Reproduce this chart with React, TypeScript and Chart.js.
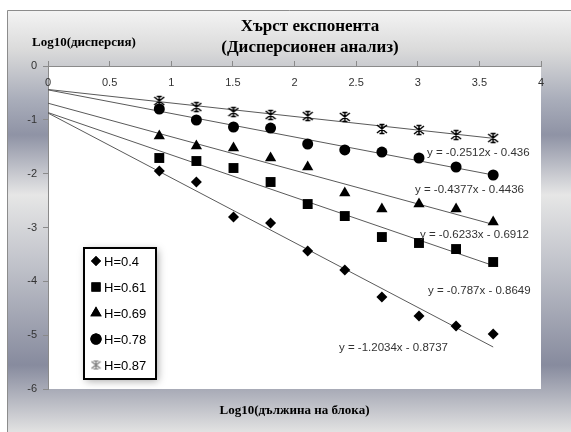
import React, { useEffect, useRef } from 'react';
import { Chart, registerables } from 'chart.js';
import { drawPoint } from 'chart.js/helpers';

Chart.register(...registerables);

// ---- data ----
const xValues = [0.903, 1.204, 1.505, 1.806, 2.107, 2.408, 2.709, 3.01, 3.311, 3.612];
const seriesNames = ['H=0.4', 'H=0.61', 'H=0.69', 'H=0.78', 'H=0.87'];
const h04 = [-1.95, -2.155, -2.805, -2.917, -3.437, -3.79, -4.29, -4.644, -4.83, -4.98];
const h061 = [-1.709, -1.765, -1.895, -2.155, -2.564, -2.787, -3.177, -3.288, -3.4, -3.641];
const h069 = [-1.3, -1.486, -1.523, -1.709, -1.876, -2.359, -2.657, -2.564, -2.657, -2.898];
const h078 = [-0.799, -1.003, -1.133, -1.152, -1.449, -1.56, -1.598, -1.709, -1.876, -2.025];
const h087 = [-0.65, -0.762, -0.855, -0.91, -0.929, -0.947, -1.17, -1.189, -1.282, -1.338];
const seriesValues = [h04, h061, h069, h078, h087];

// trendline endpoints (x = 0 and x = last point)
const trendX = [0, 3.612];
const trendStartY = [-0.8737, -0.8649, -0.6912, -0.4436, -0.436];
const trendEndY = [-5.22, -3.707, -2.943, -2.025, -1.343];
const trendLabels = [
  'y = -1.2034x - 0.8737',
  'y = -0.787x - 0.8649',
  'y = -0.6233x - 0.6912',
  'y = -0.4377x - 0.4436',
  'y = -0.2512x - 0.436',
];

const titleLines = ['Хърст експонента', '(Дисперсионен анализ)'];
const yAxisTitle = 'Log10(дисперсия)';
const xAxisTitle = 'Log10(дължина на блока)';
const xMin = 0, xMax = 4, xStep = 0.5;
const yMin = -6, yMax = 0, yStep = 1;

function makeStar(color: string, size = 12, lw = 1.5) {
  const c = document.createElement('canvas');
  c.width = size;
  c.height = size;
  const g = c.getContext('2d')!;
  g.strokeStyle = color;
  g.lineWidth = lw;
  const a = 1, b = size - 1, m = size / 2;
  g.beginPath();
  g.moveTo(a, a + 1); g.lineTo(b, b - 1);
  g.moveTo(b, a + 1); g.lineTo(a, b - 1);
  g.moveTo(m, a); g.lineTo(m, b);
  g.moveTo(m - 2.5, a + 0.5); g.lineTo(m + 2.5, a + 0.5);
  g.moveTo(m - 2.5, b - 0.5); g.lineTo(m + 2.5, b - 0.5);
  g.stroke();
  return c;
}

export default function App() {
  const ref = useRef<HTMLCanvasElement>(null);
  useEffect(() => {
    const canvas = ref.current!;
    const star = makeStar('#000', 12, 1.5);
    const starLegend = makeStar('#777', 11, 1.2);
    const styles: any[] = ['rectRot', 'rect', 'triangle', 'circle', star];
    const radii = [5.5, 7, 6.5, 5.5, 6];
    const legendStyles: any[] = ['rectRot', 'rect', 'triangle', 'circle', starLegend];
    const legendRadii = [5, 6.5, 6.5, 5.5, 6];

    const scatterSets = seriesValues.map((vals, i) => ({
      label: seriesNames[i],
      data: vals.map((v, j) => ({ x: xValues[j], y: v })),
      showLine: false,
      pointStyle: styles[i],
      pointRadius: radii[i],
      pointBackgroundColor: '#000',
      pointBorderColor: '#000',
      pointBorderWidth: 0,
      order: 1,
    }));
    const trendSets = trendStartY.map((y0, i) => ({
      label: 'trend' + i,
      data: [
        { x: trendX[0], y: y0 },
        { x: trendX[1], y: trendEndY[i] },
      ],
      showLine: true,
      pointRadius: 0,
      borderColor: '#5a5a5a',
      borderWidth: 1,
      order: 2,
    }));

    const bgPlugin = {
      id: 'bg',
      beforeDraw(chart: any) {
        const { ctx, chartArea } = chart;
        ctx.save();
        const g = ctx.createLinearGradient(0, 10, 0, 432);
        const stops: [number, string][] = [
          [10, '#f4f4f4'], [50, '#dadada'], [100, '#a9adba'], [135, '#8f93a5'],
          [195, '#e6e6e6'], [260, '#c3c5cc'], [365, '#878b9e'], [432, '#e2e2e2'],
        ];
        stops.forEach(([y, c]) => g.addColorStop((y - 10) / 422, c));
        ctx.fillStyle = g;
        ctx.fillRect(7, 10, 571 - 7, 432 - 10);
        ctx.strokeStyle = '#8c8c8c';
        ctx.lineWidth = 1;
        ctx.beginPath();
        ctx.moveTo(7.5, 432);
        ctx.lineTo(7.5, 10.5);
        ctx.lineTo(571, 10.5);
        ctx.stroke();
        ctx.fillStyle = '#fff';
        ctx.fillRect(chartArea.left, chartArea.top, chartArea.right - chartArea.left, chartArea.bottom - chartArea.top);
        ctx.restore();
      },
    };

    const textPlugin = {
      id: 'texts',
      afterDraw(chart: any) {
        const { ctx, chartArea } = chart;
        ctx.save();
        // x tick labels (drawn inside plot, below the top axis)
        const xs = chart.scales.x;
        ctx.font = '11px "Liberation Sans", sans-serif';
        ctx.fillStyle = '#333';
        ctx.textAlign = 'center';
        ctx.textBaseline = 'middle';
        xs.ticks.forEach((t: any) => {
          ctx.fillText(String(t.value), xs.getPixelForValue(t.value), chartArea.top + 17);
        });
        // titles
        ctx.fillStyle = '#000';
        ctx.font = 'bold 17px "Liberation Serif", serif';
        ctx.fillText(titleLines[0], 310, 27);
        ctx.fillText(titleLines[1], 310, 48);
        ctx.font = 'bold 13px "Liberation Serif", serif';
        ctx.textAlign = 'left';
        ctx.fillText(yAxisTitle, 32, 43);
        ctx.textAlign = 'center';
        ctx.fillText(xAxisTitle, (chartArea.left + chartArea.right) / 2, 411);

        // equation labels
        const eqPos: [number, number][] = [[339, 348], [428, 291], [420, 235], [415, 190], [427, 153]];
        ctx.font = '11.5px "Liberation Sans", sans-serif';
        ctx.fillStyle = '#333';
        ctx.textAlign = 'left';
        trendLabels.forEach((t, i) => ctx.fillText(t, eqPos[i][0], eqPos[i][1]));

        // legend
        const lx = 84, ly = 248, lw = 72, lh = 131;
        ctx.save();
        ctx.shadowColor = 'rgba(0,0,0,0.35)';
        ctx.shadowBlur = 8;
        ctx.shadowOffsetX = 2;
        ctx.shadowOffsetY = 2;
        ctx.fillStyle = '#fff';
        ctx.fillRect(lx, ly, lw, lh);
        ctx.restore();
        ctx.strokeStyle = '#000';
        ctx.lineWidth = 2;
        ctx.strokeRect(lx, ly, lw, lh);
        ctx.font = '13px "Liberation Sans", sans-serif';
        ctx.textAlign = 'left';
        ctx.textBaseline = 'middle';
        seriesNames.forEach((name, i) => {
          const y = 261 + i * 26;
          ctx.fillStyle = '#000';
          ctx.strokeStyle = '#000';
          drawPoint(ctx, { pointStyle: legendStyles[i], radius: legendRadii[i], borderWidth: 0, rotation: 0 }, 96, y);
          ctx.fill();
          ctx.fillStyle = '#000';
          ctx.fillText(name, 104, y + 1);
        });
        ctx.restore();
      },
    };

    const chart = new Chart(canvas, {
      type: 'scatter',
      data: { datasets: [...trendSets, ...scatterSets] as any },
      options: {
        responsive: false,
        animation: false,
        layout: { padding: { left: 0, top: 66, right: 30, bottom: 43 } },
        plugins: { legend: { display: false }, tooltip: { enabled: false }, title: { display: false } },
        scales: {
          x: {
            type: 'linear',
            position: 'top',
            min: xMin,
            max: xMax,
            grid: { drawOnChartArea: false, drawTicks: true, tickLength: 5, color: '#8a8a8a' },
            border: { display: true, color: '#8a8a8a', width: 1 },
            ticks: { stepSize: xStep, display: false },
            afterFit: (s: any) => { s.height = 0; },
          },
          y: {
            type: 'linear',
            position: 'left',
            min: yMin,
            max: yMax,
            grid: { drawOnChartArea: false, drawTicks: true, tickLength: 5, color: '#8a8a8a' },
            border: { display: true, color: '#8a8a8a', width: 1 },
            ticks: {
              stepSize: yStep,
              padding: 6,
              color: '#333',
              font: { family: '"Liberation Sans", sans-serif', size: 11 },
            },
            afterFit: (s: any) => { s.width = 48; },
          },
        },
      },
      plugins: [bgPlugin, textPlugin],
    });
    return () => chart.destroy();
  }, []);

  return (
    <div style={{ position: 'absolute', left: 0, top: 0, width: 571, height: 432 }}>
      <canvas ref={ref} width={571} height={432} style={{ display: 'block' }} />
    </div>
  );
}
